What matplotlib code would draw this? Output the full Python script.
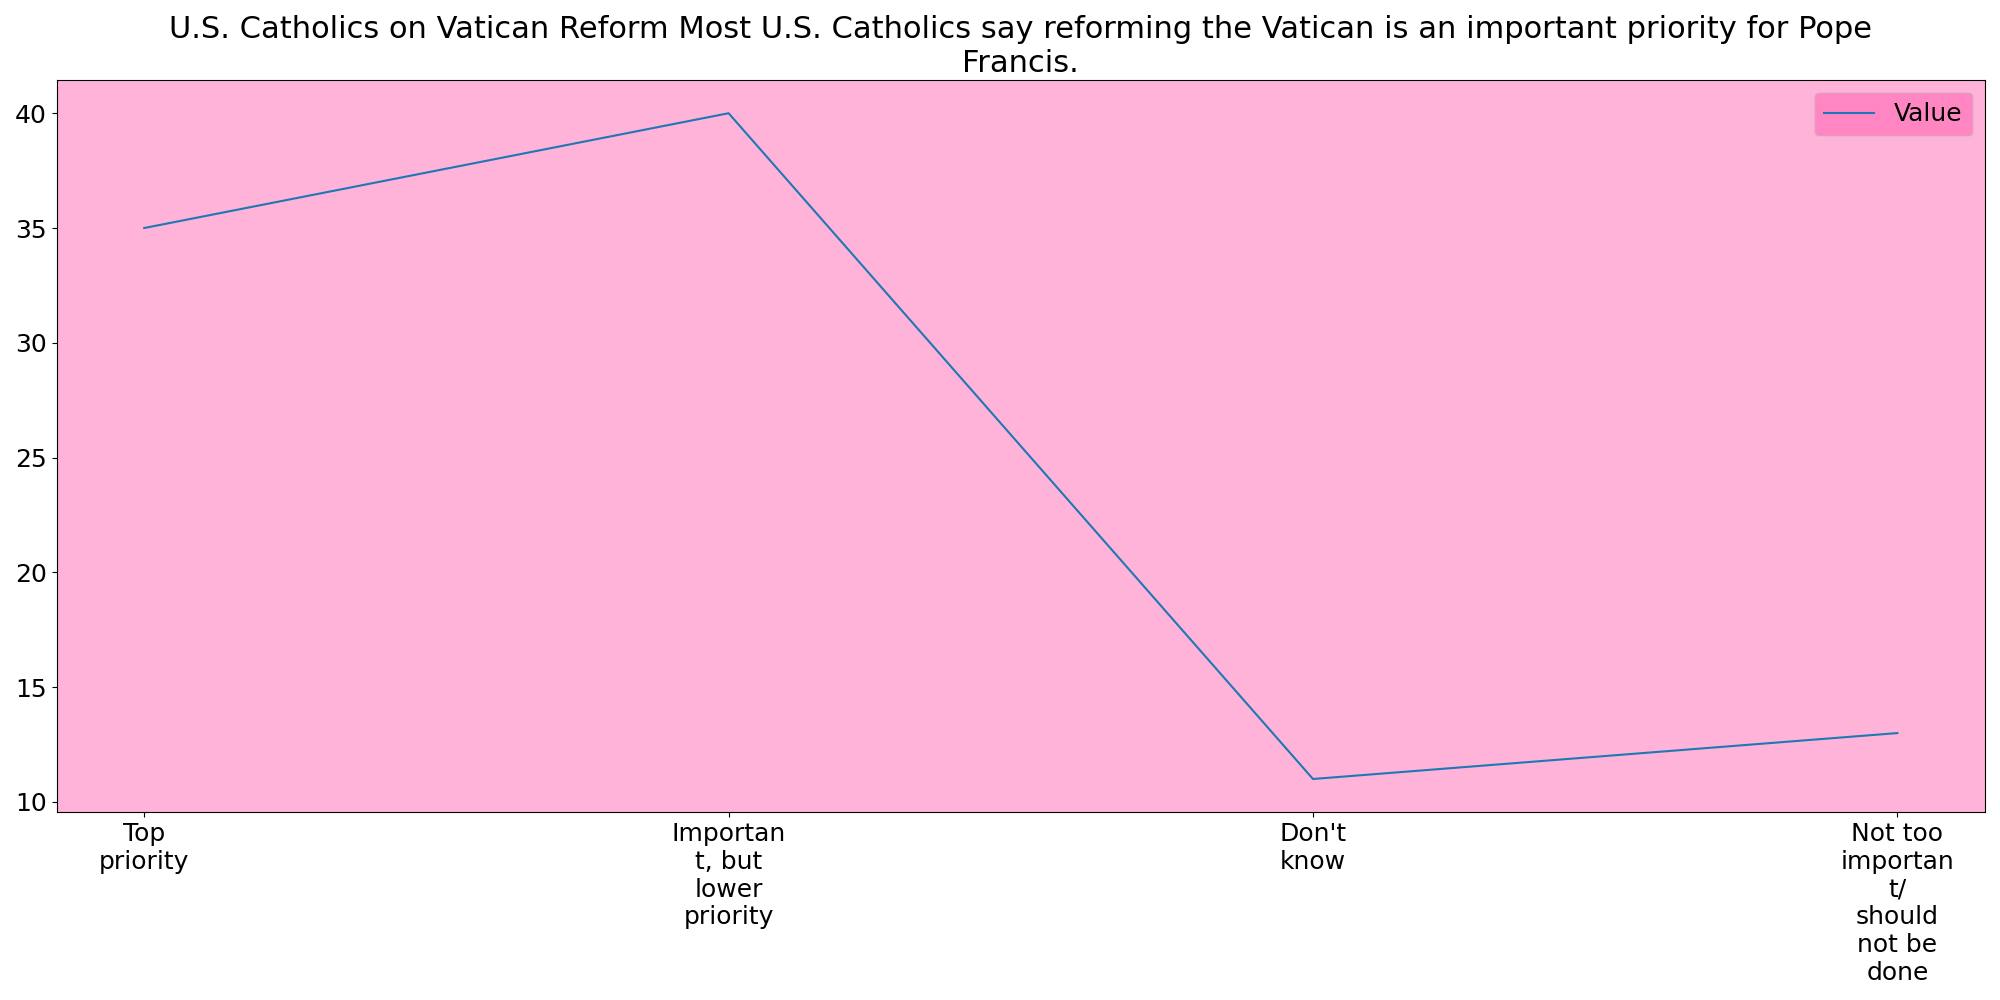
import matplotlib
matplotlib.use("Agg")
import matplotlib.pyplot as plt

categories = ["Top\npriority", "Importan\nt, but\nlower\npriority", "Don't\nknow", "Not too\nimportan\nt/\nshould\nnot be\ndone"]
values = [35, 40, 11, 13]

fig, ax = plt.subplots(figsize=(20, 10), dpi=100)
ax.set_facecolor("#FFB3D9")
ax.plot(range(len(values)), values, color="#1f77b4", label="Value")
ax.set_xticks(range(len(categories)))
ax.set_xticklabels(categories, fontsize=18)
ax.tick_params(axis="y", labelsize=18)
ax.set_xlim(-0.15, 3.15)
ax.set_title("U.S. Catholics on Vatican Reform Most U.S. Catholics say reforming the Vatican is an important priority for Pope\nFrancis.", fontsize=22)
leg = ax.legend(fontsize=18, facecolor="#FF69B4", framealpha=0.6, loc="upper right")
plt.tight_layout()
plt.savefig("out.png")
